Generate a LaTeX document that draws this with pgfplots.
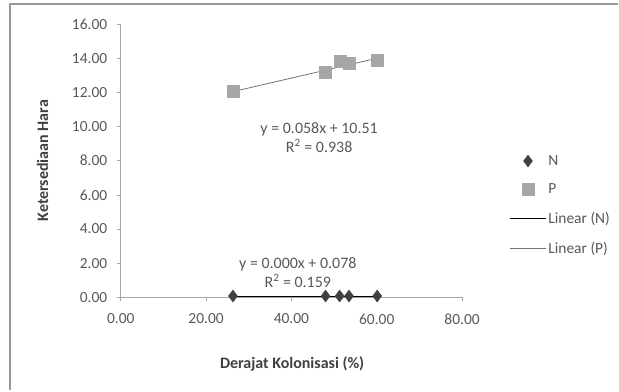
\documentclass[border=0pt]{standalone}
\usepackage{pgfplots}
\pgfplotsset{compat=1.18}
\usepackage{fontspec}
\setmainfont{Carlito}
\definecolor{tickgray}{HTML}{595959}
\definecolor{titlegray}{HTML}{404040}
\definecolor{ngray}{HTML}{404040}
\definecolor{pgray}{HTML}{A6A6A6}
\pgfplotsset{
  linelegend/.style={legend image code/.code={\draw[##1] (0pt,0pt) -- (36pt,0pt);}},
  marklegend/.style={legend image code/.code={\draw[##1] plot coordinates {(18pt,0pt)};}},
}
\begin{document}
\begin{tikzpicture}[x=1pt,y=1pt]
\fill[white] (0,0) rectangle (619,391);
\draw[line width=2.5pt, color=gray!80] (10,0) -- (10,387) -- (619,387);
\begin{axis}[
  at={(121pt,93pt)}, anchor=origin,
  scale only axis, width=342pt, height=274pt,
  xmin=0, xmax=80, ymin=0, ymax=16,
  xtick={0,20,40,60,80}, ytick={0,2,...,16},
  axis x line*=bottom, axis y line*=left,
  axis line style={color=gray!70, line width=0.8pt},
  tick style={color=gray!70, line width=0.6pt},
  tick align=outside, major tick length=4pt,
  /pgf/number format/.cd, fixed, fixed zerofill, precision=2, assume math mode=true,
  /pgfplots/.cd,
  ticklabel style={font=\fontsize{15.5}{18}\selectfont, color=tickgray},
  xticklabel style={yshift=-9pt},
  yticklabel style={xshift=-6pt},
  xlabel={Derajat Kolonisasi (\%)},
  ylabel={Ketersediaan Hara},
  every axis x label/.style={at={(axis description cs:0.502,-0.245)}, anchor=center,
    font=\fontsize{16}{19}\selectfont\bfseries, text=titlegray},
  every axis y label/.style={at={(axis description cs:-0.229,0.5)}, rotate=90, anchor=center,
    font=\fontsize{16}{19}\selectfont\bfseries, text=titlegray},
  legend style={at={(axis description cs:1.13,0.535)}, anchor=north west, draw=none, fill=none,
    font=\fontsize{15.5}{18}\selectfont, text=tickgray, row sep=13pt},
  legend cell align=left,
  clip=false,
]
\addplot[only marks, mark=diamond*, mark size=6pt, color=ngray, marklegend] coordinates {
  (26.3,0.08) (48.0,0.08) (51.3,0.08) (53.5,0.08) (60.1,0.08)};
\addlegendentry{N}
\addplot[only marks, mark=square*, mark size=6pt, color=pgray, marklegend] coordinates {
  (26.3,12.05) (48.0,13.15) (51.5,13.80) (53.5,13.70) (60.0,13.90)};
\addlegendentry{P}
\addplot[no marks, color=black, line width=0.8pt, linelegend] coordinates {(26.3,0.078) (60.1,0.078)};
\addlegendentry{Linear (N)}
\addplot[no marks, color=gray!90!black, line width=0.8pt, linelegend] coordinates {(26.3,12.04) (60.0,13.99)};
\addlegendentry{Linear (P)}
\node[font=\fontsize{16}{19}\selectfont, text=tickgray, align=center] at (axis cs:46.5,9.35)
  {y = 0.058x + 10.51\\R\textsuperscript{2} = 0.938};
\node[font=\fontsize{16}{19}\selectfont, text=tickgray, align=center] at (axis cs:41.5,1.45)
  {y = 0.000x + 0.078\\R\textsuperscript{2} = 0.159};
\end{axis}
\end{tikzpicture}
\end{document}
